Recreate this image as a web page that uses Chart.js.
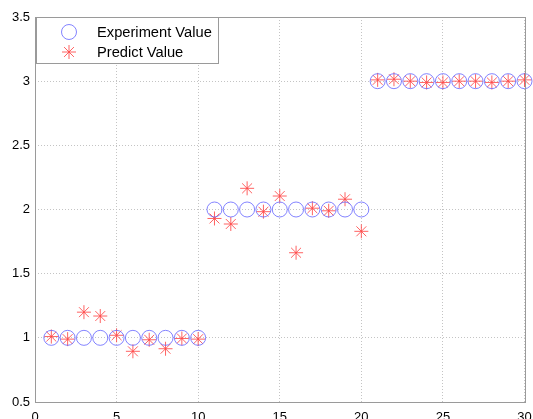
<!DOCTYPE html>
<html>
<head>
<meta charset="utf-8">
<script src="https://cdn.jsdelivr.net/npm/chart.js@4/dist/chart.umd.min.js"></script>
<style>
  html, body { margin: 0; padding: 0; background: #fff; }
  #wrap { width: 533px; height: 419px; position: relative; }
</style>
</head>
<body>
<div id="wrap"><canvas id="c" width="533" height="419"></canvas></div>
<script>
const xValues = [1,2,3,4,5,6,7,8,9,10,11,12,13,14,15,16,17,18,19,20,21,22,23,24,25,26,27,28,29,30];
const experimentValues = [1,1,1,1,1,1,1,1,1,1,2,2,2,2,2,2,2,2,2,2,3,3,3,3,3,3,3,3,3,3];
const predictValues = [1.01,0.99,1.20,1.17,1.02,0.895,0.985,0.915,0.995,0.99,
                       1.93,1.887,2.165,1.983,2.105,1.663,2.01,1.99,2.08,1.83,
                       3.01,3.015,3.0,2.99,2.99,3.0,3.0,2.99,3.0,3.01];
const seriesLabels = ['Experiment Value', 'Predict Value'];
const xTicks = [0,5,10,15,20,25,30];
const yTicks = [0.5,1,1.5,2,2.5,3,3.5];

const toPts = (ys) => xValues.map((x, i) => ({x: x, y: ys[i]}));

const frame = {
  id: 'frame',
  afterDraw(chart) {
    const ctx = chart.ctx, a = chart.chartArea;
    ctx.save();
    ctx.strokeStyle = '#9a9a9a';
    ctx.lineWidth = 1;
    ctx.strokeRect(Math.round(a.left) + 0.5, Math.round(a.top) + 0.5,
                   Math.round(a.right - a.left), Math.round(a.bottom - a.top));
    // legend box
    const lx = 36.5, ly = 17.5, lw = 182, lh = 46;
    ctx.fillStyle = '#fff';
    ctx.fillRect(lx, ly, lw, lh);
    ctx.strokeRect(lx, ly, lw, lh);
    const ds = chart.data.datasets;
    const rows = [32, 52];
    ctx.font = '14.7px "Liberation Sans", Arial, sans-serif';
    ctx.textBaseline = 'middle';
    ctx.textAlign = 'left';
    ds.forEach((d, i) => {
      const cx = 69, cy = rows[i];
      ctx.strokeStyle = d.borderColor;
      ctx.lineWidth = 1;
      ctx.beginPath();
      if (d.pointStyle === 'circle') {
        ctx.arc(cx, cy, d.pointRadius, 0, Math.PI * 2);
      } else {
        const r = d.pointRadius;
        for (let k = 0; k < 4; k++) {
          const ang = k * Math.PI / 4;
          ctx.moveTo(cx - r * Math.cos(ang), cy - r * Math.sin(ang));
          ctx.lineTo(cx + r * Math.cos(ang), cy + r * Math.sin(ang));
        }
      }
      ctx.stroke();
      ctx.fillStyle = '#000';
      ctx.fillText(d.label, 97, cy + 0.5);
    });
    ctx.restore();
  }
};

new Chart(document.getElementById('c'), {
  type: 'scatter',
  data: {
    datasets: [
      {
        label: seriesLabels[0],
        data: toPts(experimentValues),
        pointStyle: 'circle',
        pointRadius: 7.5,
        pointHoverRadius: 7.5,
        borderColor: 'rgba(100,100,255,0.8)',
        backgroundColor: 'rgba(0,0,0,0)',
        pointBorderWidth: 1,
        clip: false
      },
      {
        label: seriesLabels[1],
        data: toPts(predictValues),
        pointStyle: 'star',
        pointRadius: 7,
        pointHoverRadius: 7,
        borderColor: 'rgba(255,70,70,0.85)',
        backgroundColor: 'rgba(0,0,0,0)',
        pointBorderWidth: 1,
        clip: false
      }
    ]
  },
  options: {
    responsive: false,
    animation: false,
    events: [],
    layout: { padding: { top: 17, right: 8, left: 0, bottom: 0 } },
    plugins: { legend: { display: false }, tooltip: { enabled: false } },
    scales: {
      x: {
        type: 'linear',
        min: 0, max: 30,
        afterBuildTicks: (s) => { s.ticks = xTicks.map(v => ({value: v})); },
        afterFit: (s) => { s.height = 17; s.paddingLeft = 0; s.paddingRight = 0; },
        grid: { color: '#c4c4c4', drawTicks: false },
        border: { display: false, dash: [1, 2] },
        ticks: {
          padding: 8,
          color: '#000',
          font: { family: '"Liberation Sans", Arial, sans-serif', size: 13 },
          maxRotation: 0,
          autoSkip: false,
          callback: (v) => String(v)
        }
      },
      y: {
        type: 'linear',
        min: 0.5, max: 3.5,
        afterBuildTicks: (s) => { s.ticks = yTicks.map(v => ({value: v})); },
        afterFit: (s) => { s.width = 35; s.paddingTop = 0; s.paddingBottom = 0; },
        grid: { color: '#c4c4c4', drawTicks: false },
        border: { display: false, dash: [1, 2] },
        ticks: {
          padding: 5,
          color: '#000',
          font: { family: '"Liberation Sans", Arial, sans-serif', size: 13 },
          autoSkip: false,
          callback: (v) => String(v)
        }
      }
    }
  },
  plugins: [frame]
});
</script>
</body>
</html>
